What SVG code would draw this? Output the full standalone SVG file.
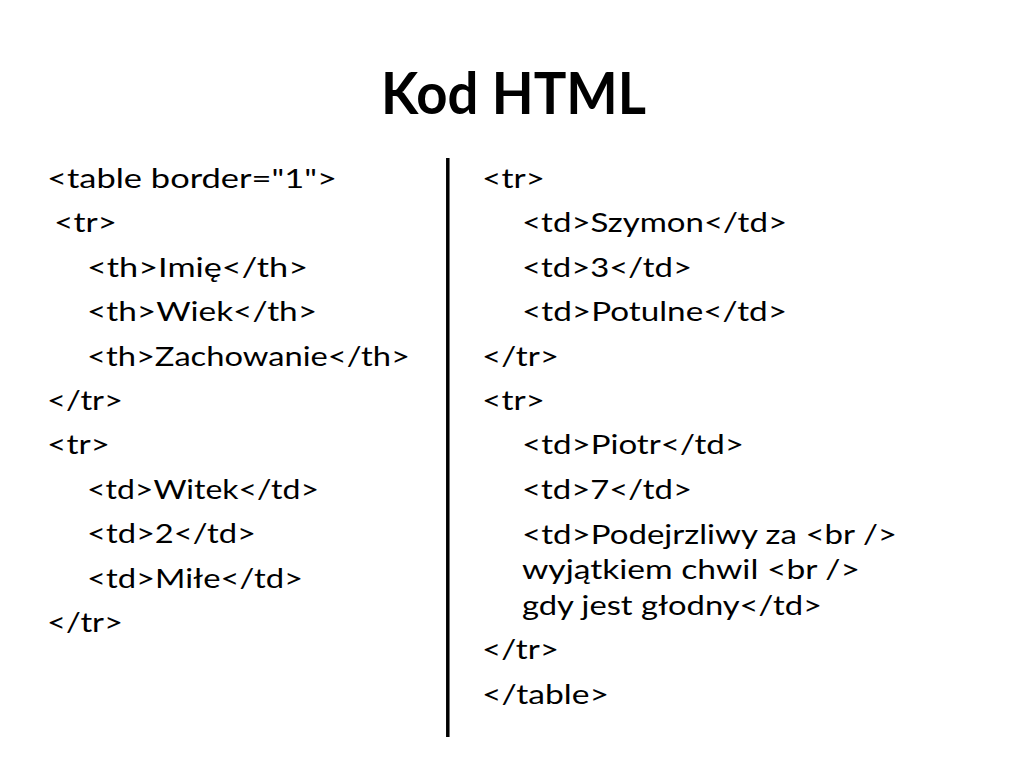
<svg xmlns="http://www.w3.org/2000/svg" width="1024" height="768" viewBox="0 0 1024 768">
<style>
.t{font-family:Lato,"Open Sans","Liberation Sans",sans-serif;font-size:27.5px;fill:#000}
.h{font-family:Lato,"Open Sans","Liberation Sans",sans-serif;font-size:58px;font-weight:bold;fill:#000}
</style>
<rect width="1024" height="768" fill="#fff"/>
<g id="title"><text class="h" x="381" y="114" textLength="265" lengthAdjust="spacingAndGlyphs">Kod HTML</text></g>
<g id="divider"><line x1="447.8" y1="158" x2="447.8" y2="737" stroke="#000" stroke-width="3.5"/></g>
<g id="left-column">
<text class="t" x="47" y="188" textLength="290" lengthAdjust="spacingAndGlyphs">&lt;table border="1"&gt;</text>
<text class="t" x="54" y="232" textLength="63" lengthAdjust="spacingAndGlyphs">&lt;tr&gt;</text>
<text class="t" x="87" y="277" textLength="221" lengthAdjust="spacingAndGlyphs">&lt;th&gt;Imię&lt;/th&gt;</text>
<text class="t" x="87" y="321" textLength="230" lengthAdjust="spacingAndGlyphs">&lt;th&gt;Wiek&lt;/th&gt;</text>
<text class="t" x="87" y="366" textLength="323" lengthAdjust="spacingAndGlyphs">&lt;th&gt;Zachowanie&lt;/th&gt;</text>
<text class="t" x="47" y="410" textLength="76" lengthAdjust="spacingAndGlyphs">&lt;/tr&gt;</text>
<text class="t" x="47" y="454" textLength="63" lengthAdjust="spacingAndGlyphs">&lt;tr&gt;</text>
<text class="t" x="87" y="499" textLength="232" lengthAdjust="spacingAndGlyphs">&lt;td&gt;Witek&lt;/td&gt;</text>
<text class="t" x="87" y="543" textLength="169" lengthAdjust="spacingAndGlyphs">&lt;td&gt;2&lt;/td&gt;</text>
<text class="t" x="87" y="588" textLength="216" lengthAdjust="spacingAndGlyphs">&lt;td&gt;Miłe&lt;/td&gt;</text>
<text class="t" x="47" y="632" textLength="76" lengthAdjust="spacingAndGlyphs">&lt;/tr&gt;</text>
</g>
<g id="right-column">
<text class="t" x="482" y="188" textLength="63" lengthAdjust="spacingAndGlyphs">&lt;tr&gt;</text>
<text class="t" x="522" y="232" textLength="265" lengthAdjust="spacingAndGlyphs">&lt;td&gt;Szymon&lt;/td&gt;</text>
<text class="t" x="522" y="277" textLength="170" lengthAdjust="spacingAndGlyphs">&lt;td&gt;3&lt;/td&gt;</text>
<text class="t" x="522" y="321" textLength="265" lengthAdjust="spacingAndGlyphs">&lt;td&gt;Potulne&lt;/td&gt;</text>
<text class="t" x="482" y="366" textLength="77" lengthAdjust="spacingAndGlyphs">&lt;/tr&gt;</text>
<text class="t" x="482" y="410" textLength="63" lengthAdjust="spacingAndGlyphs">&lt;tr&gt;</text>
<text class="t" x="522" y="454" textLength="222" lengthAdjust="spacingAndGlyphs">&lt;td&gt;Piotr&lt;/td&gt;</text>
<text class="t" x="522" y="499" textLength="170" lengthAdjust="spacingAndGlyphs">&lt;td&gt;7&lt;/td&gt;</text>
<text class="t" x="522" y="544" textLength="375" lengthAdjust="spacingAndGlyphs">&lt;td&gt;Podejrzliwy za &lt;br /&gt;</text>
<text class="t" x="522" y="579" textLength="338" lengthAdjust="spacingAndGlyphs">wyjątkiem chwil &lt;br /&gt;</text>
<text class="t" x="522" y="615" textLength="300" lengthAdjust="spacingAndGlyphs">gdy jest głodny&lt;/td&gt;</text>
<text class="t" x="482" y="659" textLength="77" lengthAdjust="spacingAndGlyphs">&lt;/tr&gt;</text>
<text class="t" x="482" y="704" textLength="127" lengthAdjust="spacingAndGlyphs">&lt;/table&gt;</text>
</g>
</svg>
